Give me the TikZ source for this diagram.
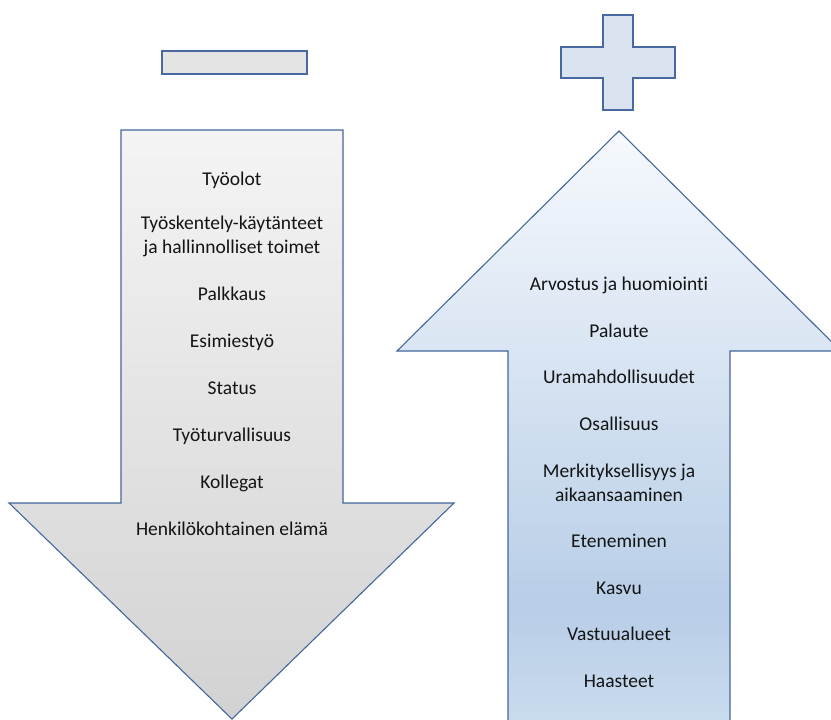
\documentclass[tikz,border=0pt]{standalone}
\usepackage{fontspec}
\setmainfont{Carlito}[Ligatures=NoCommon]
\definecolor{edge}{RGB}{68,102,156}
\definecolor{signedge}{RGB}{74,104,160}
\definecolor{minusfill}{RGB}{228,228,228}
\definecolor{plusfill}{RGB}{218,227,240}
\definecolor{grtop}{RGB}{244,244,244}
\definecolor{grbot}{RGB}{210,210,210}
\definecolor{uptop}{RGB}{246,249,253}
\definecolor{upmid}{RGB}{184,206,231}
\definecolor{upbot}{RGB}{202,219,238}
\definecolor{txt}{RGB}{20,20,20}
\pgfdeclareverticalshading{upshade}{100bp}{color(0bp)=(upbot); color(25bp)=(upbot); color(35bp)=(upmid); color(75bp)=(uptop); color(100bp)=(uptop)}
\pgfdeclareverticalshading{downshade}{100bp}{color(0bp)=(grbot); color(25bp)=(grbot); color(75bp)=(grtop); color(100bp)=(grtop)}
\begin{document}
\begin{tikzpicture}[x=1pt,y=-1pt,
  lbl/.style={font=\fontsize{19.5}{24}\selectfont, text=txt, anchor=base, inner sep=0pt, align=center},
  arrowshape/.style={draw=edge, line width=1.1pt, line join=miter},
  signshape/.style={draw=signedge, line width=2.4pt, line join=miter}]
\useasboundingbox (0,0) rectangle (831,720);
% minus sign
\path[signshape, fill=minusfill] (162,51) rectangle (307,74);
% plus sign
\path[signshape, fill=plusfill] (603,15) -- (633,15) -- (633,47) -- (675,47) -- (675,78) -- (633,78) -- (633,110) -- (603,110) -- (603,78) -- (561,78) -- (561,47) -- (603,47) -- cycle;
% down arrow
\path[arrowshape, shading=downshade] (121,130) -- (343,130) -- (343,503) -- (454,503) -- (232,719) -- (9,503) -- (121,503) -- cycle;
% up arrow
\path[arrowshape, shading=upshade] (619,131) -- (841,351) -- (730,351) -- (730,725) -- (508,725) -- (508,351) -- (397,351) -- cycle;
% left texts
\node[lbl] (l1) at (232,185) {Työolot};
\node[lbl] (l2) at (232,229) {Työskentely-käytänteet};
\node[lbl] (l2b) at (232,253) {ja hallinnolliset toimet};
\node[lbl] (l3) at (232,300.5) {Palkkaus};
\node[lbl] (l4) at (232,347) {Esimiestyö};
\node[lbl] (l5) at (232,394) {Status};
\node[lbl] (l6) at (232,441) {Työturvallisuus};
\node[lbl] (l7) at (232,488) {Kollegat};
\node[lbl] (l8) at (232,535) {Henkilökohtainen elämä};
% right texts
\node[lbl] (r1) at (619,290) {Arvostus ja huomiointi};
\node[lbl] (r2) at (619,337) {Palaute};
\node[lbl] (r3) at (619,383.5) {Uramahdollisuudet};
\node[lbl] (r4) at (619,430) {Osallisuus};
\node[lbl] (r5) at (619,477) {Merkityksellisyys ja};
\node[lbl] (r5b) at (619,501) {aikaansaaminen};
\node[lbl] (r6) at (619,547.5) {Eteneminen};
\node[lbl] (r7) at (619,594) {Kasvu};
\node[lbl] (r8) at (619,640.5) {Vastuualueet};
\node[lbl] (r9) at (619,687) {Haasteet};
\end{tikzpicture}
\end{document}
